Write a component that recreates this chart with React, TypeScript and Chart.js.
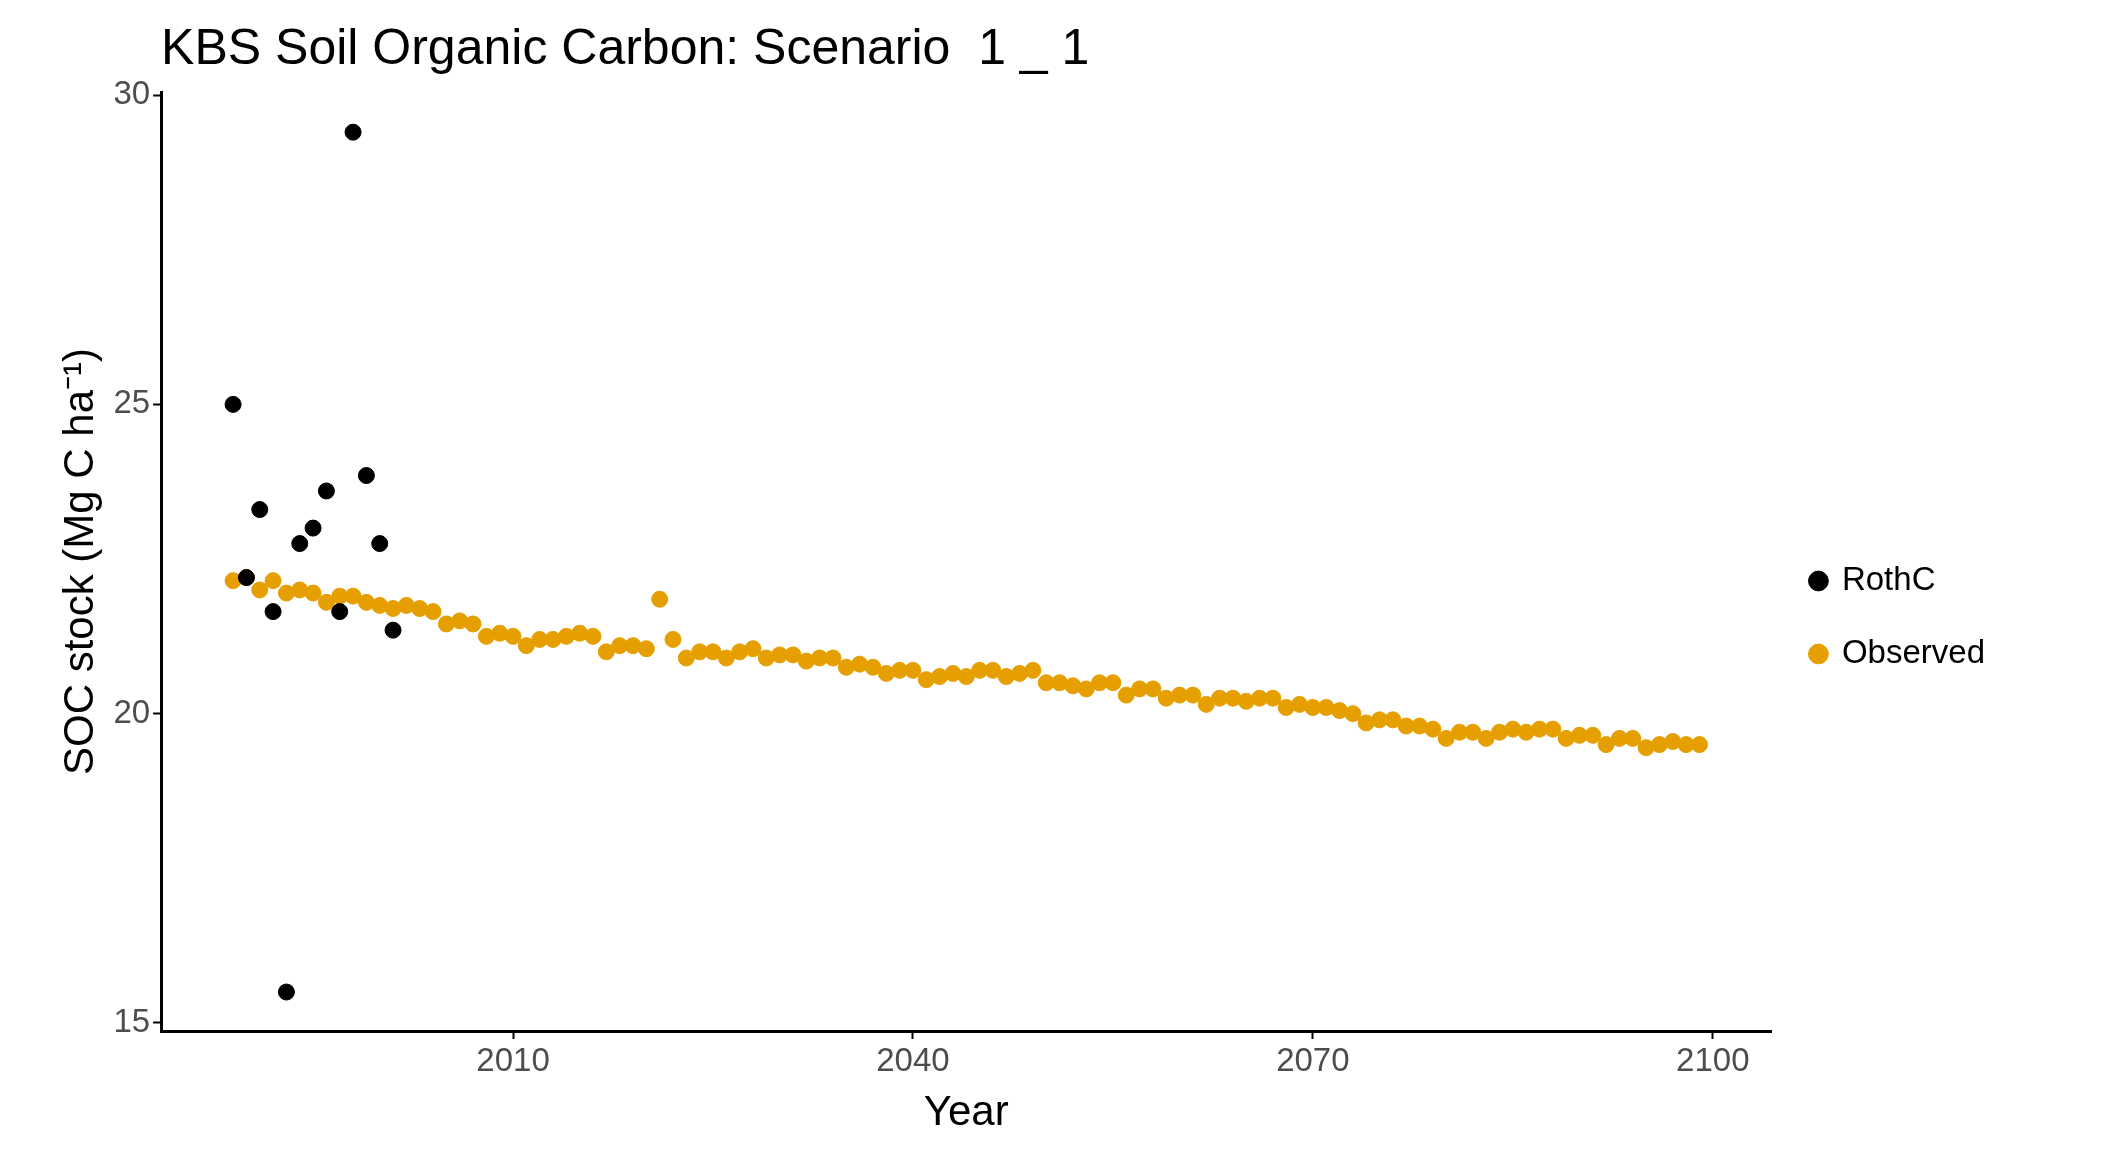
import React, { useEffect, useRef } from "react";
import { Chart, registerables } from "chart.js";
Chart.register(...registerables);

const rothYears = [1989,1990,1991,1992,1993,1994,1995,1996,1997,1998,1999,2000,2001];
const rothValues = [25.0,22.2,23.3,21.65,15.5,22.75,23.0,23.6,21.65,29.4,23.85,22.75,21.35];
const obsStartYear = 1989;
const obsValues = [22.15,22.2,22.0,22.15,21.95,22.0,21.95,21.8,21.9,21.9,21.8,21.75,21.7,21.75,21.7,21.65,21.45,21.5,21.45,21.25,21.3,21.25,21.1,21.2,21.2,21.25,21.3,21.25,21.0,21.1,21.1,21.05,21.85,21.2,20.9,21.0,21.0,20.9,21.0,21.05,20.9,20.95,20.95,20.85,20.9,20.9,20.75,20.8,20.75,20.65,20.7,20.7,20.55,20.6,20.65,20.6,20.7,20.7,20.6,20.65,20.7,20.5,20.5,20.45,20.4,20.5,20.5,20.3,20.4,20.4,20.25,20.3,20.3,20.15,20.25,20.25,20.2,20.25,20.25,20.1,20.15,20.1,20.1,20.05,20.0,19.85,19.9,19.9,19.8,19.8,19.75,19.6,19.7,19.7,19.6,19.7,19.75,19.7,19.75,19.75,19.6,19.65,19.65,19.5,19.6,19.6,19.45,19.5,19.55,19.5,19.5];
const xTicks = [2010, 2040, 2070, 2100];
const yTicks = [15, 20, 25, 30];
const titleText = "KBS Soil Organic Carbon: Scenario  1 _ 1";

export default function App() {
  const ref = useRef<HTMLCanvasElement>(null);
  useEffect(() => {
    const font = "Liberation Sans, Arial, sans-serif";
    const titlePlugin = {
      id: "leftTitle",
      afterDraw(c: any) {
        const ctx = c.ctx;
        ctx.save();
        ctx.font = `50px ${font}`;
        ctx.fillStyle = "#000";
        ctx.textBaseline = "alphabetic";
        ctx.fillText(titleText, c.chartArea.left, 64);
        ctx.restore();
      },
    };
    const chart = new Chart(ref.current!, {
      type: "scatter",
      data: {
        datasets: [
          { label: "RothC", data: rothYears.map((y, i) => ({ x: y, y: rothValues[i] })), backgroundColor: "#000000", borderColor: "#000000", pointRadius: 8, pointHoverRadius: 8 },
          { label: "Observed", data: obsValues.map((v, i) => ({ x: obsStartYear + i, y: v })), backgroundColor: "#E69F00", borderColor: "#E69F00", pointRadius: 8, pointHoverRadius: 8 },
        ],
      },
      options: {
        animation: false,
        responsive: false,
        layout: { padding: { top: 92, right: 20, bottom: 10, left: 52 } },
        plugins: {
          title: { display: false },
          legend: {
            position: "right",
            labels: { usePointStyle: true, pointStyle: "circle", boxWidth: 14, boxHeight: 14, padding: 40, color: "#000", font: { family: font, size: 33 } },
          },
          tooltip: { enabled: false },
        },
        scales: {
          x: {
            type: "linear", min: 1983.6, max: 2104.4,
            afterBuildTicks: (s: any) => { s.ticks = xTicks.map((v) => ({ value: v })); },
            ticks: { color: "#4d4d4d", font: { family: font, size: 33 }, callback: (v: any) => String(v) },
            grid: { display: true, drawOnChartArea: false, color: "#000", tickLength: 8, tickWidth: 2 },
            border: { color: "#000", width: 3 },
            title: { display: true, text: "Year", color: "#000", font: { family: font, size: 42 } },
          },
          y: {
            type: "linear", min: 14.87, max: 30.05,
            afterBuildTicks: (s: any) => { s.ticks = yTicks.map((v) => ({ value: v })); },
            ticks: { color: "#4d4d4d", font: { family: font, size: 33 } },
            grid: { display: true, drawOnChartArea: false, color: "#000", tickLength: 8, tickWidth: 2 },
            border: { color: "#000", width: 3 },
            title: { display: true, text: "SOC stock (Mg C ha\u207B\u00B9)", color: "#000", font: { family: font, size: 42 } },
          },
        },
      },
      plugins: [
        titlePlugin,
        { id: "legendPad", beforeInit(c: any) { const orig = c.legend?.fit; } },
        {
          id: "legendWidth",
          afterInit(c: any) {
            const lg = c.legend;
            const fit = lg.fit.bind(lg);
            lg.fit = function () { fit(); this.width += 110; };
          },
        },
      ],
    });
    return () => chart.destroy();
  }, []);
  return (
    <div style={{ position: "absolute", left: 0, top: 0, width: 2125, height: 1153, background: "#fff" }}>
      <canvas ref={ref} width={2125} height={1153} />
    </div>
  );
}
